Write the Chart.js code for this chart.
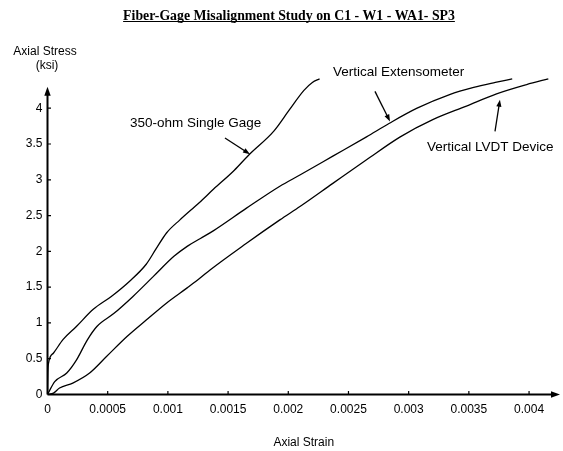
<!DOCTYPE html>
<html>
<head>
<meta charset="utf-8">
<script src="https://cdn.jsdelivr.net/npm/chart.js@4.4.1/dist/chart.umd.min.js"></script>
<style>
  html, body { margin: 0; padding: 0; background: #fff; }
  #wrap { position: relative; width: 563px; height: 451px; }
</style>
</head>
<body>
<div id="wrap"><canvas id="chart" width="563" height="451"></canvas></div>
<script>
// ---- data (axial strain, axial stress in ksi) ----
const singleStrain = [0, 0.000003, 0.00001, 0.00005, 0.00013, 0.00024, 0.00038, 0.00053, 0.00068, 0.00082, 0.0009, 0.00099, 0.0011, 0.00126, 0.00138, 0.00155, 0.00168, 0.00188, 0.00201, 0.00213, 0.0022, 0.00226];
const singleStress = [0, 0.3, 0.45, 0.58, 0.77, 0.95, 1.19, 1.37, 1.58, 1.82, 2.03, 2.26, 2.44, 2.68, 2.87, 3.13, 3.36, 3.68, 3.98, 4.25, 4.36, 4.41];

const extStrain = [0, 0.00006, 0.00016, 0.00024, 0.00033, 0.00041, 0.00055, 0.00071, 0.00088, 0.00105, 0.00116, 0.00127, 0.00138, 0.00165, 0.00193, 0.0021, 0.00237, 0.00265, 0.00284, 0.00307, 0.00334, 0.00354, 0.00372, 0.00386];
const extStress = [0, 0.18, 0.3, 0.48, 0.76, 0.95, 1.13, 1.37, 1.65, 1.93, 2.07, 2.18, 2.29, 2.6, 2.91, 3.07, 3.33, 3.6, 3.79, 4.0, 4.19, 4.29, 4.36, 4.41];

const lvdtStrain = [0, 0.00005, 0.0001, 0.00021, 0.00035, 0.00049, 0.00066, 0.00082, 0.00099, 0.00116, 0.00127, 0.00135, 0.00165, 0.00193, 0.0021, 0.00237, 0.00265, 0.00293, 0.0032, 0.00348, 0.00373, 0.00398, 0.00416];
const lvdtStress = [0, 0.02, 0.09, 0.16, 0.3, 0.53, 0.81, 1.04, 1.28, 1.49, 1.63, 1.74, 2.11, 2.44, 2.63, 2.95, 3.28, 3.6, 3.84, 4.03, 4.2, 4.33, 4.41];

const xTicks = [0, 0.0005, 0.001, 0.0015, 0.002, 0.0025, 0.003, 0.0035, 0.004];
const xTickLabels = ['0', '0.0005', '0.001', '0.0015', '0.002', '0.0025', '0.003', '0.0035', '0.004'];
const yTicks = [0, 0.5, 1, 1.5, 2, 2.5, 3, 3.5, 4];
const yTickLabels = ['0', '0.5', '1', '1.5', '2', '2.5', '3', '3.5', '4'];

const seriesNames = ['350-ohm Single Gage', 'Vertical Extensometer', 'Vertical LVDT Device'];

// callout labels and arrows, in data units
const calloutText = ['350-ohm Single Gage', 'Vertical Extensometer', 'Vertical LVDT Device'];
const calloutAt = [[0.000685, 3.79], [0.002371, 4.5], [0.003152, 3.46]];
const arrowFrom = [[0.001474, 3.583], [0.00272, 4.235], [0.003717, 3.675]];
const arrowTo = [[0.001682, 3.357], [0.002845, 3.815], [0.003758, 4.119]];

const X_MAX = 0.004257, Y_MAX = 4.45, Y_ARROW = 4.3;
const SANS = '"Liberation Sans", Arial, sans-serif';

function pairs(xs, ys) {
  return xs.map((x, i) => ({ x: x, y: ys[i] }));
}

function arrowHead(ctx, x0, y0, x1, y1, len, half) {
  const a = Math.atan2(y1 - y0, x1 - x0);
  ctx.beginPath();
  ctx.moveTo(x1, y1);
  ctx.lineTo(x1 - len * Math.cos(a) + half * Math.sin(a), y1 - len * Math.sin(a) - half * Math.cos(a));
  ctx.lineTo(x1 - len * Math.cos(a) - half * Math.sin(a), y1 - len * Math.sin(a) + half * Math.cos(a));
  ctx.closePath();
  ctx.fill();
}

// axes with arrows, inner ticks, titles and callouts
const decorPlugin = {
  id: 'decor',
  afterDraw(chart) {
    const ctx = chart.ctx;
    const xs = chart.scales.x, ys = chart.scales.y;
    const x0 = xs.getPixelForValue(0), y0 = ys.getPixelForValue(0);
    const xEnd = xs.right, yTop = ys.getPixelForValue(Y_ARROW);
    ctx.save();
    ctx.strokeStyle = '#000';
    ctx.fillStyle = '#000';
    ctx.lineWidth = 2;
    ctx.beginPath();
    ctx.moveTo(x0, y0); ctx.lineTo(xEnd - 6, y0);
    ctx.moveTo(x0, y0); ctx.lineTo(x0, yTop + 6);
    ctx.stroke();
    arrowHead(ctx, x0, y0, xEnd, y0, 9, 3.2);
    arrowHead(ctx, x0, y0, x0, yTop, 9, 3.2);

    ctx.lineWidth = 1.2;
    ctx.beginPath();
    xTicks.forEach(v => {
      const p = xs.getPixelForValue(v);
      if (v > 0) { ctx.moveTo(p, y0); ctx.lineTo(p, y0 - 3.5); }
    });
    yTicks.forEach(v => {
      const p = ys.getPixelForValue(v);
      if (v > 0) { ctx.moveTo(x0, p); ctx.lineTo(x0 + 3.5, p); }
    });
    ctx.stroke();

    // title
    ctx.font = 'bold 13.8px "Liberation Serif", "Times New Roman", serif';
    ctx.textAlign = 'center';
    ctx.textBaseline = 'alphabetic';
    const title = 'Fiber-Gage Misalignment Study on C1 - W1 - WA1- SP3';
    const tx = 289, tyb = 19.5;
    ctx.fillText(title, tx, tyb);
    const tw = ctx.measureText(title).width;
    ctx.lineWidth = 1;
    ctx.beginPath();
    ctx.moveTo(tx - tw / 2, tyb + 2); ctx.lineTo(tx + tw / 2, tyb + 2);
    ctx.stroke();

    // y axis title
    ctx.font = '12px ' + SANS;
    ctx.textBaseline = 'middle';
    ctx.fillText('Axial Stress', 45, 52);
    ctx.fillText('(ksi)', 47, 66);

    // callouts
    ctx.font = '13.5px ' + SANS;
    ctx.textAlign = 'left';
    calloutText.forEach((t, i) => {
      ctx.fillText(t, xs.getPixelForValue(calloutAt[i][0]), ys.getPixelForValue(calloutAt[i][1]));
    });
    ctx.lineWidth = 1.3;
    arrowFrom.forEach((f, i) => {
      const ax = xs.getPixelForValue(f[0]), ay = ys.getPixelForValue(f[1]);
      const bx = xs.getPixelForValue(arrowTo[i][0]), by = ys.getPixelForValue(arrowTo[i][1]);
      const a = Math.atan2(by - ay, bx - ax);
      ctx.beginPath();
      ctx.moveTo(ax, ay);
      ctx.lineTo(bx - 5 * Math.cos(a), by - 5 * Math.sin(a));
      ctx.stroke();
      arrowHead(ctx, ax, ay, bx, by, 7, 2.6);
    });
    ctx.restore();
  }
};

const lineStyle = { borderColor: '#000', borderWidth: 1.3, pointRadius: 0, cubicInterpolationMode: 'monotone', fill: false };

new Chart(document.getElementById('chart'), {
  type: 'line',
  data: {
    datasets: [
      Object.assign({ label: seriesNames[0], data: pairs(singleStrain, singleStress) }, lineStyle),
      Object.assign({ label: seriesNames[1], data: pairs(extStrain, extStress) }, lineStyle),
      Object.assign({ label: seriesNames[2], data: pairs(lvdtStrain, lvdtStress) }, lineStyle)
    ]
  },
  options: {
    responsive: false,
    animation: false,
    layout: { padding: { top: 76, right: 3, bottom: 0, left: 0 } },
    plugins: { legend: { display: false }, tooltip: { enabled: false }, title: { display: false } },
    scales: {
      x: {
        type: 'linear', min: 0, max: X_MAX,
        grid: { display: false, drawTicks: false },
        border: { display: false },
        afterBuildTicks: s => { s.ticks = xTicks.map(v => ({ value: v })); },
        afterFit: s => { s.height = 56.5; },
        ticks: {
          padding: 8, color: '#000', maxRotation: 0, autoSkip: false,
          font: { family: SANS, size: 12 },
          callback: (v, i) => xTickLabels[i]
        },
        title: {
          display: true, text: 'Axial Strain', color: '#000',
          font: { family: SANS, size: 12 }, padding: { top: 4, bottom: 1 }
        }
      },
      y: {
        type: 'linear', min: 0, max: Y_MAX,
        grid: { display: false, drawTicks: false },
        border: { display: false },
        afterBuildTicks: s => { s.ticks = yTicks.map(v => ({ value: v })); },
        afterFit: s => { s.width = 47.5; },
        ticks: {
          padding: 5, color: '#000',
          font: { family: SANS, size: 12 },
          callback: (v, i) => yTickLabels[i]
        }
      }
    }
  },
  plugins: [decorPlugin]
});
</script>
</body>
</html>
